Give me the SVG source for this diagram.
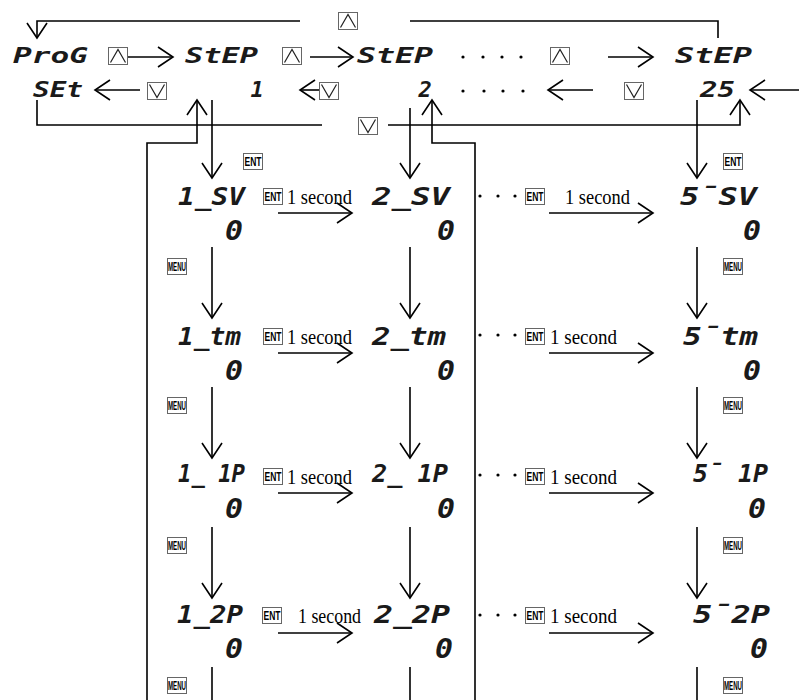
<svg xmlns="http://www.w3.org/2000/svg" xmlns:xlink="http://www.w3.org/1999/xlink" width="799" height="700" viewBox="0 0 799 700">
<style>
.ln{stroke:#000;stroke-width:1.6;fill:none}
.ar{marker-end:url(#ah)}
.seg{font-family:"DejaVu Sans Mono",monospace;font-weight:bold;font-style:italic;fill:#1a1a1a}
.s1{font-size:22px}
.s2{font-size:24px}
.s0{font-size:27px}
.kb{fill:#fff;stroke:#666;stroke-width:1}
.kt{font-family:"Liberation Sans",sans-serif;font-weight:bold;font-size:12px;fill:#000}
.sec{font-family:"Liberation Serif",serif;font-size:22px;fill:#000}
.dot{fill:#000}
</style>
<defs>
<marker id="ah" markerUnits="userSpaceOnUse" markerWidth="20" markerHeight="26" viewBox="-17 -13 20 26" refX="0" refY="0" orient="auto">
<path d="M-15,-10 L0,0 L-15,10" fill="none" stroke="#000" stroke-width="1.6"/>
</marker>
<symbol id="kup" viewBox="0 0 20 18"><rect class="kb" x="0.5" y="0.5" width="19" height="17"/><polyline points="2.5,15.5 10,2.5 17.5,15.5" fill="none" stroke="#222" stroke-width="1.2"/></symbol>
<symbol id="kdn" viewBox="0 0 20 18"><rect class="kb" x="0.5" y="0.5" width="19" height="17"/><polyline points="2.5,2.5 10,15.5 17.5,2.5" fill="none" stroke="#222" stroke-width="1.2"/></symbol>
<symbol id="kent" viewBox="0 0 20 17"><rect class="kb" x="0.5" y="0.5" width="19" height="16"/><text class="kt" x="10" y="13" text-anchor="middle" textLength="17" lengthAdjust="spacingAndGlyphs">ENT</text></symbol>
<symbol id="kmenu" viewBox="0 0 20 17"><rect class="kb" x="0.5" y="0.5" width="19" height="16"/><text class="kt" x="10" y="13" text-anchor="middle" textLength="18" lengthAdjust="spacingAndGlyphs">MENU</text></symbol>
</defs>

<g id="connectors">
<path class="ln ar" d="M300,21 H37 V38"/>
<path class="ln" d="M410,21 H718 V38"/>
<use href="#kup" x="338" y="12" width="20" height="18"/>
<path class="ln ar" d="M125,57 H173"/>
<use href="#kup" x="108" y="47" width="20" height="18"/>
<path class="ln ar" d="M310,57 H353"/>
<use href="#kup" x="282" y="47" width="20" height="18"/>
<path class="ln ar" d="M608,57 H653"/>
<use href="#kup" x="550" y="47" width="20" height="18"/>
<path class="ln ar" d="M140,90 H95"/>
<use href="#kdn" x="147" y="82" width="20" height="18"/>
<path class="ln ar" d="M322,90 H300"/>
<use href="#kdn" x="319" y="82" width="20" height="18"/>
<path class="ln ar" d="M593,90 H548"/>
<use href="#kdn" x="624" y="82" width="20" height="18"/>
<path class="ln ar" d="M799,90 H750"/>
<path class="ln" d="M37,100 V125 H322"/>
<use href="#kdn" x="358" y="117" width="20" height="18"/>
<path class="ln ar" d="M388,125 H740 V100"/>
<path class="ln ar" d="M147,700 V143 H197 V100"/>
<path class="ln ar" d="M212,100 V178"/>
<path class="ln ar" d="M475,700 V143 H432 V100"/>
<path class="ln ar" d="M410,108 V178"/>
<path class="ln ar" d="M697,100 V178"/>
<path class="ln ar" d="M212,247 V318"/>
<path class="ln ar" d="M212,387 V458"/>
<path class="ln ar" d="M212,527 V598"/>
<path class="ln" d="M212,667 V700"/>
<path class="ln ar" d="M410,247 V318"/>
<path class="ln ar" d="M410,387 V458"/>
<path class="ln ar" d="M410,527 V598"/>
<path class="ln" d="M410,667 V700"/>
<path class="ln ar" d="M697,247 V318"/>
<path class="ln ar" d="M697,387 V458"/>
<path class="ln ar" d="M697,527 V598"/>
<path class="ln" d="M697,667 V700"/>
<path class="ln ar" d="M278,213 H352"/>
<path class="ln ar" d="M549,213 H653"/>
<path class="ln ar" d="M278,353 H352"/>
<path class="ln ar" d="M549,353 H653"/>
<path class="ln ar" d="M278,493 H352"/>
<path class="ln ar" d="M549,493 H653"/>
<path class="ln ar" d="M278,633 H352"/>
<path class="ln ar" d="M549,633 H653"/>
</g>

<g id="labels">
<use href="#kent" x="243" y="153" width="20" height="17"/>
<use href="#kent" x="723" y="153" width="20" height="17"/>
<use href="#kmenu" x="167" y="258" width="20" height="17"/>
<use href="#kmenu" x="167" y="397" width="20" height="17"/>
<use href="#kmenu" x="167" y="537" width="20" height="17"/>
<use href="#kmenu" x="167" y="677" width="20" height="17"/>
<use href="#kmenu" x="723" y="258" width="20" height="17"/>
<use href="#kmenu" x="723" y="397" width="20" height="17"/>
<use href="#kmenu" x="723" y="537" width="20" height="17"/>
<use href="#kmenu" x="723" y="677" width="20" height="17"/>
<use href="#kent" x="263" y="188" width="20" height="17"/>
<text class="sec" x="287" y="204" textLength="65" lengthAdjust="spacingAndGlyphs">1 second</text>
<use href="#kent" x="263" y="328" width="20" height="17"/>
<text class="sec" x="287" y="344" textLength="65" lengthAdjust="spacingAndGlyphs">1 second</text>
<use href="#kent" x="263" y="468" width="20" height="17"/>
<text class="sec" x="287" y="484" textLength="65" lengthAdjust="spacingAndGlyphs">1 second</text>
<use href="#kent" x="262" y="607" width="20" height="17"/>
<text class="sec" x="298" y="623" textLength="63" lengthAdjust="spacingAndGlyphs">1 second</text>
<use href="#kent" x="525" y="188" width="20" height="17"/>
<text class="sec" x="565" y="204" textLength="65" lengthAdjust="spacingAndGlyphs">1 second</text>
<use href="#kent" x="525" y="328" width="20" height="17"/>
<text class="sec" x="550" y="344" textLength="67" lengthAdjust="spacingAndGlyphs">1 second</text>
<use href="#kent" x="525" y="468" width="20" height="17"/>
<text class="sec" x="550" y="484" textLength="67" lengthAdjust="spacingAndGlyphs">1 second</text>
<use href="#kent" x="525" y="607" width="20" height="17"/>
<text class="sec" x="550" y="623" textLength="67" lengthAdjust="spacingAndGlyphs">1 second</text>
<circle class="dot" cx="463" cy="57" r="1.6"/><circle class="dot" cx="483" cy="57" r="1.6"/><circle class="dot" cx="502" cy="57" r="1.6"/><circle class="dot" cx="521" cy="57" r="1.6"/>
<circle class="dot" cx="463" cy="91" r="1.6"/><circle class="dot" cx="484" cy="91" r="1.6"/><circle class="dot" cx="503" cy="91" r="1.6"/><circle class="dot" cx="523" cy="91" r="1.6"/>
<circle class="dot" cx="480" cy="196" r="1.6"/><circle class="dot" cx="498" cy="196" r="1.6"/><circle class="dot" cx="515" cy="196" r="1.6"/>
<circle class="dot" cx="480" cy="335" r="1.6"/><circle class="dot" cx="498" cy="335" r="1.6"/><circle class="dot" cx="515" cy="335" r="1.6"/>
<circle class="dot" cx="480" cy="475" r="1.6"/><circle class="dot" cx="498" cy="475" r="1.6"/><circle class="dot" cx="515" cy="475" r="1.6"/>
<circle class="dot" cx="480" cy="615" r="1.6"/><circle class="dot" cx="498" cy="615" r="1.6"/><circle class="dot" cx="515" cy="615" r="1.6"/>
</g>

<g id="n-prog"><text class="seg s1" x="13" y="63" textLength="75" lengthAdjust="spacingAndGlyphs">ProG</text></g>
<g id="n-set"><text class="seg s1" x="33" y="97" textLength="50" lengthAdjust="spacingAndGlyphs">SEt</text></g>
<g id="n-step1"><text class="seg s1" x="185" y="63" textLength="73" lengthAdjust="spacingAndGlyphs">StEP</text><text class="seg s1" x="257" y="97" text-anchor="middle">1</text></g>
<g id="n-step2"><text class="seg s1" x="357" y="63" textLength="76" lengthAdjust="spacingAndGlyphs">StEP</text><text class="seg s1" x="425" y="97" text-anchor="middle">2</text></g>
<g id="n-step25"><text class="seg s1" x="675" y="63" textLength="77" lengthAdjust="spacingAndGlyphs">StEP</text><text class="seg s1" x="700" y="97" textLength="35" lengthAdjust="spacingAndGlyphs">25</text></g>

<g id="n-1sv"><text class="seg s2" x="178" y="205" textLength="67" lengthAdjust="spacingAndGlyphs">1_SV</text><text class="seg s0" x="225" y="240" textLength="18" lengthAdjust="spacingAndGlyphs">0</text></g>
<g id="n-2sv"><text class="seg s2" x="372" y="205" textLength="78" lengthAdjust="spacingAndGlyphs">2_SV</text><text class="seg s0" x="437" y="240" textLength="18" lengthAdjust="spacingAndGlyphs">0</text></g>
<g id="n-25sv"><text class="seg s2" x="680" y="205" textLength="77" lengthAdjust="spacingAndGlyphs">5¯SV</text><text class="seg s0" x="743" y="240" textLength="18" lengthAdjust="spacingAndGlyphs">0</text></g>

<g id="n-1tm"><text class="seg s2" x="178" y="345" textLength="63" lengthAdjust="spacingAndGlyphs">1_tm</text><text class="seg s0" x="225" y="380" textLength="18" lengthAdjust="spacingAndGlyphs">0</text></g>
<g id="n-2tm"><text class="seg s2" x="372" y="345" textLength="74" lengthAdjust="spacingAndGlyphs">2_tm</text><text class="seg s0" x="437" y="380" textLength="18" lengthAdjust="spacingAndGlyphs">0</text></g>
<g id="n-25tm"><text class="seg s2" x="683" y="345" textLength="75" lengthAdjust="spacingAndGlyphs">5¯tm</text><text class="seg s0" x="743" y="380" textLength="18" lengthAdjust="spacingAndGlyphs">0</text></g>

<g id="n-11p"><text class="seg s2" x="178" y="482" textLength="67" lengthAdjust="spacingAndGlyphs">1_ 1P</text><text class="seg s0" x="225" y="518" textLength="18" lengthAdjust="spacingAndGlyphs">0</text></g>
<g id="n-21p"><text class="seg s2" x="372" y="482" textLength="76" lengthAdjust="spacingAndGlyphs">2_ 1P</text><text class="seg s0" x="437" y="518" textLength="18" lengthAdjust="spacingAndGlyphs">0</text></g>
<g id="n-251p"><text class="seg s2" x="693" y="482" textLength="75" lengthAdjust="spacingAndGlyphs">5¯ 1P</text><text class="seg s0" x="748" y="518" textLength="18" lengthAdjust="spacingAndGlyphs">0</text></g>

<g id="n-12p"><text class="seg s2" x="177" y="623" textLength="66" lengthAdjust="spacingAndGlyphs">1_2P</text><text class="seg s0" x="225" y="658" textLength="18" lengthAdjust="spacingAndGlyphs">0</text></g>
<g id="n-22p"><text class="seg s2" x="374" y="623" textLength="76" lengthAdjust="spacingAndGlyphs">2_2P</text><text class="seg s0" x="435" y="658" textLength="18" lengthAdjust="spacingAndGlyphs">0</text></g>
<g id="n-252p"><text class="seg s2" x="693" y="623" textLength="77" lengthAdjust="spacingAndGlyphs">5¯2P</text><text class="seg s0" x="750" y="658" textLength="18" lengthAdjust="spacingAndGlyphs">0</text></g>
</svg>
